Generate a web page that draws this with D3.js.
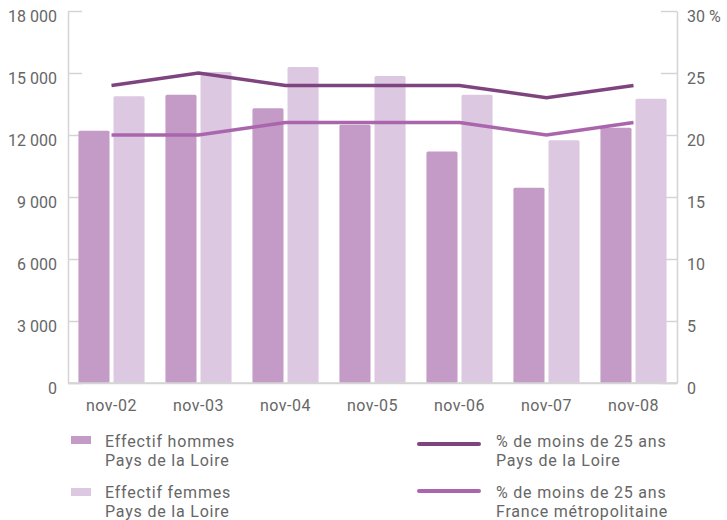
<!DOCTYPE html>
<html>
<head>
<meta charset="utf-8">
<script src="https://cdn.jsdelivr.net/npm/d3@7"></script>
<style>
  body { margin: 0; background: #fff; }
  text { font-family: Roboto, "Liberation Sans", Arial, sans-serif; fill: #666; }
  .axis path, .axis line { stroke: #d4d4d4; stroke-width: 1.5; }
</style>
</head>
<body>
<div class="chart"></div>
<script>
var months = ['nov-02', 'nov-03', 'nov-04', 'nov-05', 'nov-06', 'nov-07', 'nov-08'];
var hommes = [12200, 13950, 13300, 12500, 11200, 9450, 12350];
var femmes = [13870, 15050, 15290, 14850, 13950, 11750, 13750];
var pctPdl = [24, 25, 24, 24, 24, 23, 24];
var pctFrance = [20, 20, 21, 21, 21, 20, 21];
var leftTicks = [0, 3000, 6000, 9000, 12000, 15000, 18000];
var rightTicks = [0, 5, 10, 15, 20, 25, 30];

var width = 727;
var height = 520;
var colHommes = "#c49ac6";
var colFemmes = "#ddc8e1";
var colPdl = "#7e4480";
var colFrance = "#aa66ad";

var fr = d3.formatLocale({decimal: ",", thousands: " ", grouping: [3], currency: ["", " €"]});
var format = fr.format(",");

var svg = d3.select(".chart")
.append("svg")
.attr("width", width)
.attr("height", height);

var y = d3.scaleLinear().domain([0, 18000]).range([383, 11]);
var y2 = d3.scaleLinear().domain([0, 30]).range([383, 11]);

var x0 = d3.scaleBand()
.domain(months)
.range([68, 677])
.paddingInner(0.24)
.paddingOuter(0.12);

var x1 = d3.scaleBand()
.domain(['hommes', 'femmes'])
.range([0, x0.bandwidth()])
.paddingInner(0.114);

// axes
var gl = svg.append("g")
.attr("class", "axis")
.attr("transform", "translate(68,0)")
.call(d3.axisLeft(y).tickValues(leftTicks).tickSize(-14).tickSizeOuter(0).tickFormat(format));
gl.selectAll("text").attr("x", -11).attr("dy", 0).attr("y", 10).style("font-size", "16px");

var gr = svg.append("g")
.attr("class", "axis")
.attr("transform", "translate(677,0)")
.call(d3.axisRight(y2).tickValues(rightTicks).tickSize(-16).tickSizeOuter(0)
  .tickFormat(function(d) { return d === 30 ? "30 %" : d; }));
gr.selectAll("text").attr("x", 10).attr("dy", 0).attr("y", 10).style("font-size", "16px");

var gb = svg.append("g")
.attr("class", "axis")
.attr("transform", "translate(0,383)")
.call(d3.axisBottom(x0).tickSize(0).tickSizeOuter(0));
gb.selectAll("text").attr("dy", 0).attr("y", 28).style("font-size", "16px").style("letter-spacing", "0.5px");

svg.selectAll(".axis text").attr("fill", "#666");

// bars
var groups = svg.append("g")
.selectAll("g")
.data(months)
.enter().append("g")
.attr("transform", function(d) { return "translate(" + x0(d) + ",0)"; });

groups.append("rect")
.attr("x", x1('hommes'))
.attr("y", function(d, i) { return y(hommes[i]); })
.attr("width", x1.bandwidth())
.attr("height", function(d, i) { return y(0) - y(hommes[i]); })
.attr("rx", 1.5)
.style("fill", colHommes);

groups.append("rect")
.attr("x", x1('femmes'))
.attr("y", function(d, i) { return y(femmes[i]); })
.attr("width", x1.bandwidth())
.attr("height", function(d, i) { return y(0) - y(femmes[i]); })
.attr("rx", 1.5)
.style("fill", colFemmes);

// redraw the baseline over the bars
svg.append("line")
.attr("x1", 68).attr("x2", 677)
.attr("y1", y(0)).attr("y2", y(0))
.style("stroke", "#d4d4d4").style("stroke-width", 1.5);

// lines
var line = d3.line()
.x(function(d, i) { return x0(months[i]) + x0.bandwidth() / 2; })
.y(function(d) { return y2(d); });

svg.append("path")
.datum(pctFrance)
.attr("d", line)
.style("fill", "none")
.style("stroke", colFrance)
.style("stroke-width", 3.5);

svg.append("path")
.datum(pctPdl)
.attr("d", line)
.style("fill", "none")
.style("stroke", colPdl)
.style("stroke-width", 3.5);

// legend
var legend = svg.append("g").style("font-size", "16px").style("letter-spacing", "0.8px");

var barLegend = [
  {color: colHommes, y: 436, lines: ["Effectif hommes", "Pays de la Loire"], ty: 447},
  {color: colFemmes, y: 488, lines: ["Effectif femmes", "Pays de la Loire"], ty: 498}
];
var lineLegend = [
  {color: colPdl, y: 444, lines: ["% de moins de 25 ans", "Pays de la Loire"], ty: 447},
  {color: colFrance, y: 491, lines: ["% de moins de 25 ans", "France métropolitaine"], ty: 498}
];

barLegend.forEach(function(l) {
  legend.append("rect")
  .attr("x", 71).attr("y", l.y)
  .attr("width", 20).attr("height", 8)
  .style("fill", l.color);
  l.lines.forEach(function(t, i) {
    legend.append("text").attr("x", 105).attr("y", l.ty + i * 19).text(t);
  });
});

lineLegend.forEach(function(l) {
  legend.append("line")
  .attr("x1", 419).attr("x2", 479)
  .attr("y1", l.y).attr("y2", l.y)
  .style("stroke", l.color)
  .style("stroke-width", 4)
  .style("stroke-linecap", "round");
  l.lines.forEach(function(t, i) {
    legend.append("text").attr("x", 496).attr("y", l.ty + i * 19).text(t);
  });
});
</script>
</body>
</html>
